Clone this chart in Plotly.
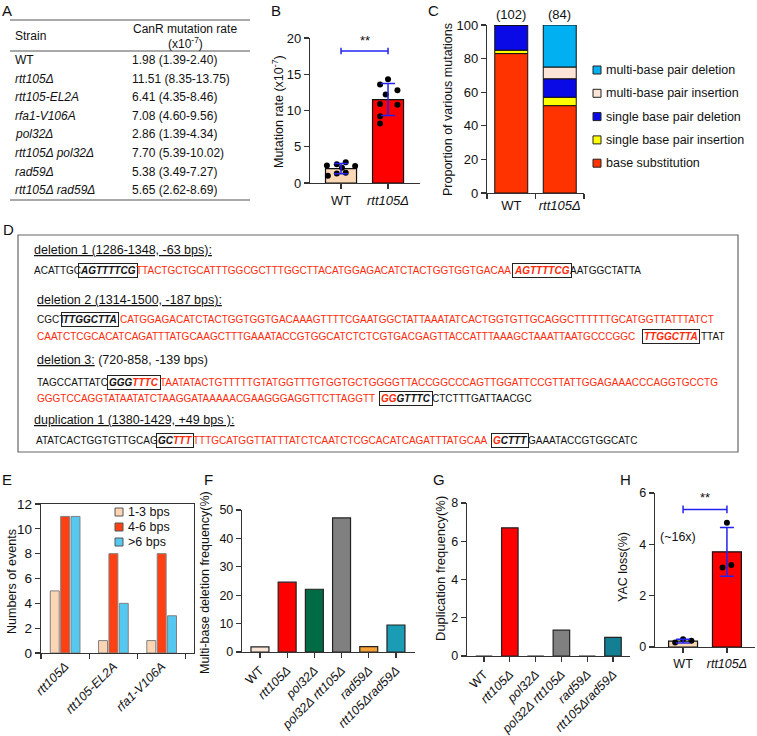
import plotly.graph_objects as go

W, H = 757, 736
def fx(x): return x / W
def fy(y): return 1 - y / H

FONT = "Liberation Sans, Arial, Helvetica, sans-serif"
AXC = "#333333"
BLUE = "#2323f0"
TXT = "#111111"
RED_TXT = "#ff2a0a"

# ================= DATA =================
# Panel A (table)
a_strains = ["WT", "rtt105Δ", "rtt105-EL2A", "rfa1-V106A", "pol32Δ",
             "rtt105Δ pol32Δ", "rad59Δ", "rtt105Δ rad59Δ"]
a_rates = ["1.98 (1.39-2.40)", "11.51 (8.35-13.75)", "6.41 (4.35-8.46)",
           "7.08 (4.60-9.56)", "2.86 (1.39-4.34)", "7.70 (5.39-10.02)",
           "5.38 (3.49-7.27)", "5.65 (2.62-8.69)"]

# Panel B
b_groups = ["WT", "rtt105Δ"]
b_means = [1.98, 11.51]
b_sd = [0.70, 2.20]
b_colors = ["#fad7b5", "#ff0000"]
b_wt_points = [2.40, 2.60, 2.85, 2.35, 1.00, 1.30, 1.40, 2.10]
b_wt_jitter = [-0.30, -0.09, 0.10, 0.30, -0.28, -0.09, 0.10, 0.02]
b_rtt_points = [14.3, 13.6, 12.8, 12.2, 10.9, 10.8, 9.2, 8.2]
b_rtt_jitter = [0.00, -0.17, 0.20, -0.05, -0.17, 0.20, -0.17, -0.17]
b_sig_y = 18.2

# Panel C
c_groups = ["WT", "rtt105Δ"]
c_counts = [102, 84]
c_types = ["base substitution", "single base pair insertion",
           "single base pair deletion", "multi-base pair insertion",
           "multi-base pair deletion"]
c_base_sub = [83, 52]
c_single_ins = [2, 5]
c_single_del = [15, 11]
c_multi_ins = [0, 7]
c_multi_del = [0, 25]
c_colors = ["#ff3300", "#ffff00", "#0a0ae6", "#fce4d6", "#00b0f0"]

# Panel E
e_groups = ["rtt105Δ", "rtt105-EL2A", "rfa1-V106A"]
e_series = ["1-3 bps", "4-6 bps", ">6 bps"]
e_1_3 = [5, 1, 1]
e_4_6 = [11, 8, 8]
e_gt6 = [11, 4, 3]
e_colors = ["#fcd5b5", "#ff4013", "#55c8f0"]

# Panel F
f_groups = ["WT", "rtt105Δ", "pol32Δ", "pol32Δ rtt105Δ", "rad59Δ", "rtt105Δrad59Δ"]
f_values = [1.8, 24.6, 22.1, 47.2, 1.9, 9.5]
f_colors = ["#fbe5d6", "#ff0000", "#006b45", "#808080", "#f7a035", "#1a9cb5"]

# Panel G
g_groups = ["WT", "rtt105Δ", "pol32Δ", "pol32Δ rtt105Δ", "rad59Δ", "rtt105Δrad59Δ"]
g_values = [0, 6.7, 0, 1.35, 0, 0.97]
g_colors = ["#fbe5d6", "#ff0000", "#006b45", "#808080", "#f7a035", "#137f92"]

# Panel H
h_groups = ["WT", "rtt105Δ"]
h_means = [0.23, 3.71]
h_sd = [0.07, 0.95]
h_colors = ["#fad7b5", "#ff0000"]
h_wt_points = [0.18, 0.30, 0.24]
h_wt_jitter = [-0.18, 0.00, 0.19]
h_rtt_points = [4.84, 3.10, 3.19]
h_rtt_jitter = [0.00, -0.10, 0.10]
h_sig_y = 5.36
h_fold = "(~16x)"

# Panel D (sequences)
d_headings = [
    ("<u>deletion 1 (1286-1348, -63 bps):</u>", 32, 250),
    ("<u>deletion 2 (1314-1500, -187 bps):</u>", 35, 300),
    ("<u>deletion 3:</u> (720-858, -139 bps)", 35, 360),
    ("<u>duplication 1 (1380-1429, +49 bps ):</u>", 32, 420),
]
# segments: (text, colour key, boxed)
d_seq_lines = [
    (32, 271, [("ACATTGC", "k", 0), ("AGTTTTCG", "k", 1),
               ("TTACTGCTGCATTTGGCGCTTTGGCTTACATGGAGACATCTACTGGTGGTGACAA", "r", 0),
               ("AGTTTTCG", "r", 1), ("AATGGCTATTA", "k", 0)]),
    (35, 320, [("CGCT", "k", 0), ("TTGGCTTA", "k", 1),
               ("CATGGAGACATCTACTGGTGGTGACAAAGTTTTCGAATGGCTATTAAATATCACTGGTGTTGCAGGCTTTTTTGCATGGTTATTTATCT", "r", 0)]),
    (35, 336, [("CAATCTCGCACATCAGATTTATGCAAGCTTTGAAATACCGTGGCATCTCTCGTGACGAGTTACCATTTAAAGCTAAATTAATGCCCGGC", "r", 0),
               ("TTGGCTTA", "r", 1), ("TTAT", "k", 0)]),
    (35, 383, [("TAGCCATTATC", "k", 0), ("GGG", "k", 1), ("TTTC", "r", 1),
               ("TAATATACTGTTTTTGTATGGTTTGTGGTGCTGGGGTTACCGGCCCAGTTGGATTCCGTTATTGGAGAAACCCAGGTGCCTG", "r", 0)]),
    (35, 398, [("GGGTCCAGGTATAATATCTAAGGATAAAAACGAAGGGAGGTTCTTAGGTT", "r", 0),
               ("GG", "r", 1), ("GTTTC", "k", 1), ("CTCTTTGATTAACGC", "k", 0)]),
    (34, 440, [("ATATCACTGGTGTTGCAG", "k", 0), ("GC", "k", 1), ("TTT", "r", 1),
               ("TTTGCATGGTTATTTATCTCAATCTCGCACATCAGATTTATGCAA", "r", 0),
               ("G", "r", 1), ("CTTT", "k", 1), ("GAAATACCGTGGCATC", "k", 0)]),
]

# ================= FIGURE =================
fig = go.Figure()
annotations = []
shapes = []
layout = dict(width=W, height=H, autosize=False,
              margin=dict(l=0, r=0, t=0, b=0),
              paper_bgcolor="white", plot_bgcolor="rgba(0,0,0,0)",
              showlegend=False, barmode="overlay",
              font=dict(family=FONT, size=12, color=TXT))


def sfx(n):
    return "" if n == 1 else str(n)


def make_axes(n, xpx, ypx, xopt, yopt, fs=12):
    s = sfx(n)
    base = dict(showline=True, linecolor=AXC, linewidth=1.2, ticks="outside",
                ticklen=5, tickwidth=1.2, tickcolor=AXC, showgrid=False,
                zeroline=False, fixedrange=True, automargin=False,
                tickfont=dict(family=FONT, size=fs, color=TXT))
    xa = dict(base, domain=[fx(xpx[0]), fx(xpx[1])], anchor="y" + s)
    xa.update(xopt)
    ya = dict(base, domain=[fy(ypx[1]), fy(ypx[0])], anchor="x" + s)
    ya.update(yopt)
    layout["xaxis" + s] = xa
    layout["yaxis" + s] = ya


def txt(x, y, text, size=12, xanchor="left", yanchor="middle", angle=0, color=TXT, **kw):
    d = dict(x=fx(x), y=fy(y), xref="paper", yref="paper", text=text,
             showarrow=False, xanchor=xanchor, yanchor=yanchor, textangle=angle,
             font=dict(family=FONT, size=size, color=color))
    d.update(kw)
    annotations.append(d)


def hline(x0, x1, y, color="#555555", width=1.2):
    shapes.append(dict(type="line", xref="paper", yref="paper",
                       x0=fx(x0), x1=fx(x1), y0=fy(y), y1=fy(y),
                       line=dict(color=color, width=width)))


def ital(s):
    return s if s == "WT" else "<i>" + s + "</i>"


# ---------- Panel letters ----------
for letter, lx, ly in [("A", 7, 10), ("B", 276, 10), ("C", 434, 10), ("D", 8, 229),
                       ("E", 7, 479), ("F", 208, 479), ("G", 439, 479), ("H", 625, 479)]:
    txt(lx, ly, letter, size=15, xanchor="center")

# ---------- Panel A: table ----------
hline(10, 250, 20)
hline(10, 250, 51)
hline(10, 250, 200)
txt(13, 36, "Strain", size=12)
txt(185, 29, "CanR mutation rate", size=12, xanchor="center")
txt(185, 43, "(x10<sup>-7</sup>)", size=12, xanchor="center")
row_y0, row_dy = 60, 18.6
for i, (s, r) in enumerate(zip(a_strains, a_rates)):
    y = row_y0 + i * row_dy
    txt(13, y, ital(s), size=12)
    txt(130, y, r, size=12)

# ---------- Panel B ----------
make_axes(1, (310, 420), (38, 183),
          dict(range=[-0.66, 1.68], tickvals=[0, 1], ticktext=[ital(g) for g in b_groups]),
          dict(range=[0, 20], tickvals=[0, 5, 10, 15, 20]), fs=13)
fig.add_trace(go.Bar(x=[0, 1], y=b_means, width=0.66, marker=dict(color=b_colors, line=dict(color="#111", width=1.2)),
                     xaxis="x", yaxis="y"))
fig.add_trace(go.Scatter(x=[0 + j for j in b_wt_jitter] + [1 + j for j in b_rtt_jitter],
                         y=b_wt_points + b_rtt_points, mode="markers",
                         marker=dict(color="#000", size=6), xaxis="x", yaxis="y"))
fig.add_trace(go.Scatter(x=[0, 1], y=b_means, mode="markers", marker=dict(opacity=0, size=2),
                         error_y=dict(type="data", array=b_sd, color=BLUE, thickness=1.5, width=7),
                         xaxis="x", yaxis="y"))
for (x0, y0, x1, y1) in [(0, b_sig_y, 1, b_sig_y), (0, b_sig_y - 0.45, 0, b_sig_y + 0.45),
                         (1, b_sig_y - 0.45, 1, b_sig_y + 0.45)]:
    shapes.append(dict(type="line", xref="x", yref="y", x0=x0, x1=x1, y0=y0, y1=y1,
                       line=dict(color=BLUE, width=1.5)))
annotations.append(dict(x=0.5, y=b_sig_y, xref="x", yref="y", text="**", showarrow=False,
                        yanchor="bottom", yshift=1, font=dict(family=FONT, size=13, color=TXT)))
txt(278, 112, "Mutation rate (x10<sup>-7</sup>)", size=12.5, xanchor="center", angle=-90)

# ---------- Panel C ----------
c_labels = [ital(g) for g in c_groups]
make_axes(2, (487, 584), (25, 193),
          dict(type="category", categoryorder="array", categoryarray=c_labels,
               range=[-0.5, 1.5], tickson="boundaries", tickangle=0),
          dict(range=[0, 100], dtick=20), fs=13)
c_stack = [c_base_sub, c_single_ins, c_single_del, c_multi_ins, c_multi_del]
cum = [0, 0]
for name, vals, col in zip(c_types, c_stack, c_colors):
    fig.add_trace(go.Bar(x=c_labels, y=vals, base=list(cum), width=0.68, name=name,
                         marker=dict(color=col, line=dict(color="#111", width=1)),
                         xaxis="x2", yaxis="y2"))
    cum = [a + b for a, b in zip(cum, vals)]
for lab, n, top in zip(c_labels, c_counts, cum):
    annotations.append(dict(x=lab, y=top, xref="x2", yref="y2", text=f"({n})", showarrow=False,
                            yanchor="bottom", yshift=1, font=dict(family=FONT, size=13, color=TXT)))
txt(448, 110, "Proportion of various mutations", size=12.5, xanchor="center", angle=-90)
# legend (top to bottom: reverse stacking order)
for k, (name, col) in enumerate(zip(reversed(c_types), reversed(c_colors))):
    ly = 70 + k * 23.3
    shapes.append(dict(type="rect", xref="paper", yref="paper", x0=fx(593), x1=fx(601),
                       y0=fy(ly + 4), y1=fy(ly - 4), fillcolor=col, line=dict(color="#222", width=1)))
    txt(603.5, ly, name, size=12.5)

# ---------- Panel D ----------
shapes.append(dict(type="rect", xref="paper", yref="paper", x0=fx(18), x1=fx(738),
                   y0=fy(452), y1=fy(235), line=dict(color="#666", width=1.2)))
for t, hx, hy in d_headings:
    txt(hx, hy, t, size=12.5)

ARIAL = {"A": 667, "C": 722, "G": 778, "T": 611}
ARIAL_B = {"A": 722, "C": 722, "G": 778, "T": 611}
SEQ_FS = 10
COLS = {"k": TXT, "r": RED_TXT}


def seq_w(s, bold):
    tbl = ARIAL_B if bold else ARIAL
    return sum(tbl[c] for c in s) * SEQ_FS / 1000.0


for sx, sy, segs in d_seq_lines:
    groups = []
    for t, c, b in segs:
        if groups and groups[-1][0] == b and b == 1:
            groups[-1][1].append((t, c))
        else:
            groups.append([b, [(t, c)]])
    cx = sx
    for b, parts in groups:
        html = "".join(f"<span style='color:{COLS[c]}'>{t}</span>" for t, c in parts)
        width = sum(seq_w(t, b) for t, _ in parts)
        if b:
            annotations.append(dict(x=fx(cx - 2), y=fy(sy), xref="paper", yref="paper",
                                    text="<b><i>" + html + "</i></b>", showarrow=False,
                                    xanchor="left", yanchor="middle", bordercolor="#222",
                                    borderwidth=1, borderpad=1,
                                    font=dict(family=FONT, size=SEQ_FS, color=TXT)))
        else:
            txt(cx, sy, html, size=SEQ_FS)
        cx += width

# ---------- Panel E ----------
e_labels = [ital(g) for g in e_groups]
make_axes(3, (41, 194), (504, 653),
          dict(type="category", categoryorder="array", categoryarray=e_labels,
               range=[-0.5, 2.67], tickson="boundaries", tickangle=-45, mirror=True,
               tickfont=dict(family=FONT, size=12.5, color=TXT)),
          dict(range=[0, 12], dtick=2, mirror=True), fs=13.5)
e_offsets = [-0.215, 0.0, 0.215]
e_w = 0.185
for name, vals, col, off in zip(e_series, [e_1_3, e_4_6, e_gt6], e_colors, e_offsets):
    fig.add_trace(go.Bar(x=e_labels, y=vals, width=e_w, offset=off - e_w / 2, name=name,
                         marker=dict(color=col, line=dict(color="#808080", width=1)),
                         xaxis="x3", yaxis="y3"))
txt(12, 582, "Numbers of events", size=12.5, xanchor="center", angle=-90)
for k, (name, col) in enumerate(zip(e_series, e_colors)):
    ly = 512 + k * 15
    shapes.append(dict(type="rect", xref="paper", yref="paper", x0=fx(115), x1=fx(123),
                       y0=fy(ly + 4), y1=fy(ly - 4), fillcolor=col, line=dict(color="#555", width=1)))
    txt(125.5, ly, name, size=12.5)

# ---------- Panel F ----------
make_axes(4, (242, 415), (510, 652),
          dict(range=[-0.66, 5.7], tickvals=list(range(len(f_groups))),
               ticktext=[ital(g) for g in f_groups], tickangle=-45),
          dict(range=[0, 50], dtick=10), fs=12.5)
fig.add_trace(go.Bar(x=list(range(len(f_groups))), y=f_values, width=0.66,
                     marker=dict(color=f_colors, line=dict(color="#222", width=1.2)),
                     xaxis="x4", yaxis="y4"))
txt(205, 582, "Multi-base deletion frequency(%)", size=12.5, xanchor="center", angle=-90)

# ---------- Panel G ----------
make_axes(5, (467, 630), (503, 656),
          dict(range=[-0.66, 5.66], tickvals=list(range(len(g_groups))),
               ticktext=[ital(g) for g in g_groups], tickangle=-45),
          dict(range=[0, 8], dtick=2), fs=12.5)
fig.add_trace(go.Bar(x=list(range(len(g_groups))), y=g_values, width=0.64,
                     marker=dict(color=g_colors, line=dict(color="#222", width=1.2)),
                     xaxis="x5", yaxis="y5"))
txt(440, 569, "Duplication frequency(%)", size=13, xanchor="center", angle=-90)

# ---------- Panel H ----------
make_axes(6, (655, 755), (493, 647),
          dict(range=[-0.64, 1.64], tickvals=[0, 1], ticktext=[ital(g) for g in h_groups]),
          dict(range=[0, 6], dtick=2), fs=12.5)
fig.add_trace(go.Bar(x=[0, 1], y=h_means, width=0.66,
                     marker=dict(color=h_colors, line=dict(color="#111", width=1.2)),
                     xaxis="x6", yaxis="y6"))
fig.add_trace(go.Scatter(x=[0 + j for j in h_wt_jitter] + [1 + j for j in h_rtt_jitter],
                         y=h_wt_points + h_rtt_points, mode="markers",
                         marker=dict(color="#000", size=6), xaxis="x6", yaxis="y6"))
fig.add_trace(go.Scatter(x=[0, 1], y=h_means, mode="markers", marker=dict(opacity=0, size=2),
                         error_y=dict(type="data", array=h_sd, color=BLUE, thickness=1.5, width=7),
                         xaxis="x6", yaxis="y6"))
for (x0, y0, x1, y1) in [(0, h_sig_y, 1, h_sig_y), (0, h_sig_y - 0.15, 0, h_sig_y + 0.15),
                         (1, h_sig_y - 0.15, 1, h_sig_y + 0.15)]:
    shapes.append(dict(type="line", xref="x6", yref="y6", x0=x0, x1=x1, y0=y0, y1=y1,
                       line=dict(color=BLUE, width=1.5)))
annotations.append(dict(x=0.5, y=h_sig_y, xref="x6", yref="y6", text="**", showarrow=False,
                        yanchor="bottom", yshift=2, font=dict(family=FONT, size=13, color=TXT)))
annotations.append(dict(x=-0.12, y=4.28, xref="x6", yref="y6", text=h_fold, showarrow=False,
                        xanchor="center", yanchor="middle", font=dict(family=FONT, size=12.5, color=TXT)))
txt(623, 567, "YAC loss(%)", size=12.5, xanchor="center", angle=-90)

layout["annotations"] = annotations
layout["shapes"] = shapes
fig.update_layout(**layout)
fig.write_html("out.html", config={"displayModeBar": False, "staticPlot": True},
               post_script="document.body.style.margin='0px';document.body.style.overflow='hidden';")
